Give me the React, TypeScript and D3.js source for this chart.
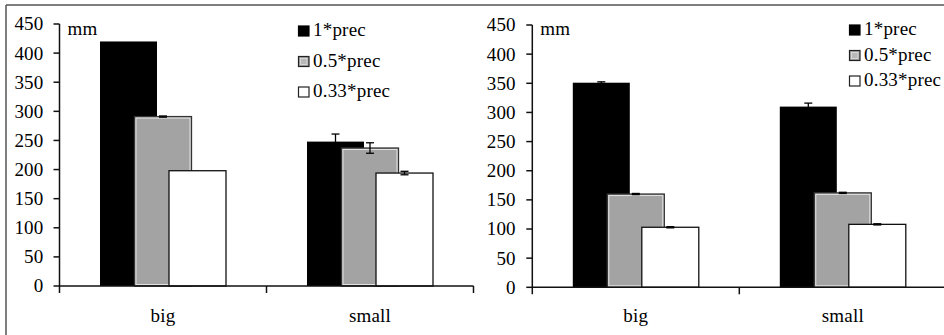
import React from 'react';
import * as d3 from 'd3';

// categories and series
const categories = ['big', 'small'];
const seriesNames = ['1*prec', '0.5*prec', '0.33*prec'];
const yTicks = [0, 50, 100, 150, 200, 250, 300, 350, 400, 450];

// left panel: means and error half-widths (mm)
const leftValues = [
  [420, 248],
  [291, 237],
  [198, 194],
];
const leftErrors = [
  [0, 13],
  [1, 9],
  [0, 3],
];

// right panel
const rightValues = [
  [351, 310],
  [160, 162],
  [103, 108],
];
const rightErrors = [
  [1.5, 6],
  [1, 1],
  [1, 1],
];

const fills = ['#000', '#a3a3a3', '#fff'];
const strokes = ['#000', '#333', '#111'];

interface PanelProps {
  values: number[][];
  errors: number[][];
  x0: number;
  y0: number;
  yTop: number;
  labelGap: number;
  legendX: number;
  legendY: number;
  legendStep: number;
}

const BAND = 207;
const BAR_W = 57;
const STEP = 34.5;

const Panel: React.FC<PanelProps> = ({ values, errors, x0, y0, yTop, labelGap, legendX, legendY, legendStep }) => {
  const x = d3.scaleBand<string>().domain(categories).range([x0, x0 + BAND * categories.length]);
  const y = d3.scaleLinear().domain([0, 450]).range([y0, yTop]);
  const barX = (cat: string, s: number) =>
    (x(cat) || 0) + x.bandwidth() / 2 + (s - 1) * STEP - BAR_W / 2;

  return (
    <g fontFamily="Liberation Serif" fontSize={19} letterSpacing={0.2} fill="#000">
      {/* bars, series drawn in order so later ones overlap earlier */}
      {seriesNames.map((name, s) => (
        <g key={name}>
          {categories.map((cat, c) => {
            const bx = barX(cat, s);
            const top = y(values[s][c]);
            const h = y0 - top;
            const cx = bx + BAR_W / 2;
            const err = errors[s][c];
            return (
              <g key={cat}>
                <rect x={bx} y={top} width={BAR_W} height={h} fill={fills[s]}
                  stroke={strokes[s]} strokeWidth={s === 0 ? 0 : 1.3} />
                {s === 1 && (
                  <rect x={bx + 1.5} y={top + 1.5} width={BAR_W - 3} height={h - 3}
                    fill="none" stroke="#e2e2e2" strokeWidth={1} />
                )}
                {err > 0 && (
                  <g stroke="#000" strokeWidth={1.3}>
                    <line x1={cx} x2={cx} y1={y(values[s][c] - err)} y2={y(values[s][c] + err)} />
                    <line x1={cx - 4} x2={cx + 4} y1={y(values[s][c] + err)} y2={y(values[s][c] + err)} />
                    <line x1={cx - 4} x2={cx + 4} y1={y(values[s][c] - err)} y2={y(values[s][c] - err)} />
                  </g>
                )}
              </g>
            );
          })}
        </g>
      ))}

      {/* y axis */}
      <line x1={x0} x2={x0} y1={yTop} y2={y0 + 7} stroke="#111" strokeWidth={1.5} />
      {yTicks.map(t => (
        <g key={t}>
          <line x1={x0 - 6} x2={x0} y1={y(t)} y2={y(t)} stroke="#111" strokeWidth={1.5} />
          <text x={x0 - labelGap} y={y(t)} dy="0.34em" textAnchor="end">{t}</text>
        </g>
      ))}

      {/* x axis */}
      <line x1={x0} x2={x0 + BAND * categories.length} y1={y0} y2={y0} stroke="#111" strokeWidth={1.5} />
      {categories.map(cat => (
        <g key={cat}>
          <line x1={(x(cat) || 0) + BAND} x2={(x(cat) || 0) + BAND} y1={y0} y2={y0 + 7}
            stroke="#111" strokeWidth={1.5} />
          <text x={(x(cat) || 0) + x.bandwidth() / 2} y={321.5} textAnchor="middle">{cat}</text>
        </g>
      ))}

      <text x={x0 + 8} y={34.5}>mm</text>

      {/* legend */}
      {seriesNames.map((name, s) => {
        const by = legendY + s * legendStep;
        return (
          <g key={name}>
            <rect x={legendX} y={by - 10} width={10.5} height={10} fill={fills[s]}
              stroke={s === 0 ? '#000' : '#222'} strokeWidth={1.2} />
            {s === 1 && (
              <rect x={legendX + 2} y={by - 8} width={6.5} height={6} fill="#b8b8b8" stroke="#e0e0e0" strokeWidth={0.8} />
            )}
            <text x={legendX + 14.5} y={by}>{name}</text>
          </g>
        );
      })}
    </g>
  );
};

export default function App() {
  return (
    <svg width={944} height={335} style={{ position: 'absolute', left: 0, top: 0, background: '#fff' }}>
      <rect x={0} y={0} width={944} height={335} fill="#fff" />
      {/* frame */}
      <line x1={6} x2={944} y1={5} y2={5} stroke="#555" strokeWidth={1.5} />
      <line x1={6} x2={6} y1={5} y2={335} stroke="#555" strokeWidth={1.5} />
      <Panel values={leftValues} errors={leftErrors} x0={59.5} y0={286} yTop={24}
        labelGap={16} legendX={298.5} legendY={36} legendStep={30.5} />
      <Panel values={rightValues} errors={rightErrors} x0={532.3} y0={287.3} yTop={25}
        labelGap={16.5} legendX={849.5} legendY={35} legendStep={25.5} />
    </svg>
  );
}
